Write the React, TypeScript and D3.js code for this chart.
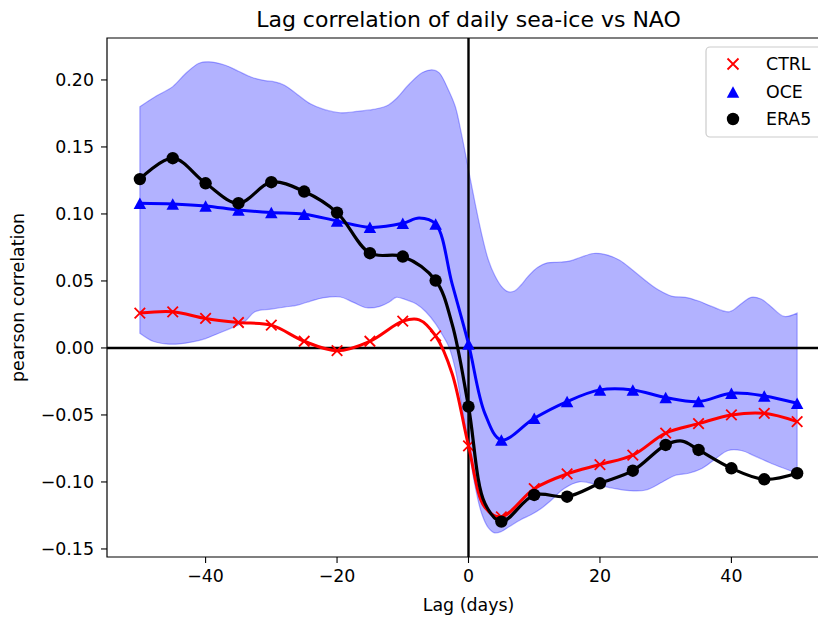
import React from "react";
import * as d3 from "d3";

const W = 818;
const H = 617;

const title = "Lag correlation of daily sea-ice vs NAO";
const xLabel = "Lag (days)";
const yLabel = "pearson correlation";
const xTicks = [-40, -20, 0, 20, 40];
const yTicks = [-0.15, -0.1, -0.05, 0, 0.05, 0.1, 0.15, 0.2];

// lags where markers are drawn
const markerLags = [-50, -45, -40, -35, -30, -25, -20, -15, -10, -5, 0, 5, 10, 15, 20, 25, 30, 35, 40, 45, 50];

const ctrlValues = [0.026, 0.027, 0.022, 0.019, 0.017, 0.005, -0.002, 0.005, 0.02, 0.009, -0.073, -0.126, -0.105, -0.094, -0.087, -0.08, -0.0635, -0.0565, -0.05, -0.0488, -0.055];
const oceValues = [0.108, 0.1075, 0.106, 0.103, 0.101, 0.0998, 0.0948, 0.09, 0.093, 0.0925, 0.003, -0.0687, -0.0525, -0.04, -0.0313, -0.0313, -0.037, -0.04, -0.0338, -0.0358, -0.0413];
const era5Values = [0.126, 0.1416, 0.1229, 0.108, 0.1237, 0.1167, 0.101, 0.0707, 0.0682, 0.0503, -0.0438, -0.1296, -0.1097, -0.111, -0.101, -0.0916, -0.0724, -0.0761, -0.0898, -0.098, -0.0935];

// extra points of the lines between markers
const ctrlExtraLags = [-7.5, -2.5, 2.5];
const ctrlExtraValues = [0.021, -0.019, -0.119];
const oceExtraLags = [-7.5, -2.5, 2.5];
const oceExtraValues = [0.097, 0.048, -0.049];
const era5ExtraLags = [-2.5, 2.5, 32.5];
const era5ExtraValues = [0.018, -0.116, -0.0695];

// spread band
const bandUpperLags = [-50, -47.5, -45, -43, -41, -39.5, -37, -35, -33, -31, -29.5, -28, -26, -24, -22, -19.5, -17, -14.5, -12.5, -11, -9, -7, -5.5, -4.5, -3, -2, -1, 0, 1, 2, 3, 4, 5, 6, 7, 8, 9, 10.5, 12, 14, 15.5, 17, 19, 21, 23, 25, 27, 29, 31, 33, 35, 37, 39.7, 41.5, 43, 44.5, 46, 48, 50];
const bandUpperValues = [0.18, 0.188, 0.195, 0.205, 0.2125, 0.2135, 0.211, 0.2065, 0.202, 0.1995, 0.1985, 0.196, 0.189, 0.182, 0.178, 0.1755, 0.1765, 0.178, 0.1805, 0.186, 0.197, 0.2055, 0.2075, 0.2055, 0.192, 0.18, 0.158, 0.133, 0.108, 0.085, 0.066, 0.054, 0.046, 0.042, 0.0425, 0.047, 0.053, 0.06, 0.0635, 0.064, 0.065, 0.0675, 0.0705, 0.0695, 0.0655, 0.058, 0.05, 0.043, 0.0385, 0.0378, 0.035, 0.031, 0.027, 0.033, 0.0378, 0.0365, 0.031, 0.0235, 0.026];
const bandLowerLags = [-50, -48, -46, -44, -42, -40, -38, -36, -34, -32.5, -30, -28, -26, -24, -22, -19.5, -17.5, -15.5, -13.5, -12, -11, -9.5, -8, -6.5, -5, -4, -3, -2, -1, 0, 1, 2, 3, 4, 5, 6.3, 8, 9.5, 11, 12.5, 14.5, 17, 19.5, 22, 24.5, 27, 29.5, 31.5, 33.5, 35.5, 37.5, 39.5, 41.5, 43.5, 46.5, 50];
const bandLowerValues = [0.011, 0.005, 0.003, 0.003, 0.0045, 0.007, 0.011, 0.015, 0.02, 0.027, 0.029, 0.0305, 0.032, 0.035, 0.0375, 0.038, 0.034, 0.03, 0.031, 0.0345, 0.0378, 0.036, 0.033, 0.027, 0.018, 0.01, 0.001, -0.016, -0.044, -0.074, -0.103, -0.1235, -0.134, -0.138, -0.137, -0.133, -0.128, -0.1245, -0.12, -0.114, -0.105, -0.0998, -0.102, -0.1047, -0.1065, -0.106, -0.1, -0.095, -0.0935, -0.09, -0.083, -0.0765, -0.0765, -0.0805, -0.087, -0.0935];

const legendNames = ["CTRL", "OCE", "ERA5"];

const FONT = "DejaVu Sans";

type Pt = [number, number];

function mergeLine(vals: number[], exLags: number[], exVals: number[]): Pt[] {
  const pts: Pt[] = markerLags.map((l, i) => [l, vals[i]] as Pt);
  exLags.forEach((l, i) => pts.push([l, exVals[i]]));
  pts.sort((a, b) => a[0] - b[0]);
  return pts;
}

function XMark({ cx, cy, s = 10.5, color = "red" }: { cx: number; cy: number; s?: number; color?: string }) {
  const h = s / 2;
  return (
    <path
      d={`M${cx - h},${cy - h}L${cx + h},${cy + h}M${cx - h},${cy + h}L${cx + h},${cy - h}`}
      stroke={color}
      strokeWidth={1.8}
      fill="none"
    />
  );
}

function TriMark({ cx, cy, w = 12.5, h = 11.5, color = "blue" }: { cx: number; cy: number; w?: number; h?: number; color?: string }) {
  return (
    <path
      d={`M${cx},${cy - h / 2}L${cx - w / 2},${cy + h / 2}L${cx + w / 2},${cy + h / 2}Z`}
      fill={color}
    />
  );
}

export default function App() {
  const left = 107, right = 830, top = 38, bottom = 557;
  const x = d3.scaleLinear().domain([-55, 55]).range([left, right]);
  const y = d3.scaleLinear().domain([-0.156, 0.2313]).range([bottom, top]);

  const line = d3
    .line<Pt>()
    .x((d) => x(d[0]))
    .y((d) => y(d[1]))
    .curve(d3.curveCatmullRom.alpha(0.5));

  const upperPts: Pt[] = bandUpperLags.map((l, i) => [l, bandUpperValues[i]]);
  const lowerPts: Pt[] = bandLowerLags.map((l, i) => [l, bandLowerValues[i]]).reverse() as Pt[];
  const upPath = line(upperPts) || "";
  const loPath = (line(lowerPts) || "").replace(/^M/, "L");
  const bandPath = upPath + loPath + "Z";

  const ctrlLine = mergeLine(ctrlValues, ctrlExtraLags, ctrlExtraValues);
  const oceLine = mergeLine(oceValues, oceExtraLags, oceExtraValues);
  const era5Line = mergeLine(era5Values, era5ExtraLags, era5ExtraValues);

  const yFmt = d3.format(".2f");
  const xFmt = d3.format("d");

  const tickFs = 17.4;

  return (
    <svg
      width={W}
      height={H}
      style={{ position: "absolute", left: 0, top: 0, background: "white" }}
      fontFamily={FONT}
    >
      <rect x={0} y={0} width={W} height={H} fill="white" />
      {/* band */}
      <path d={bandPath} fill="rgb(178,178,255)" stroke="rgba(0,0,255,0.3)" strokeWidth={1.2} />
      {/* zero lines */}
      <line x1={left} x2={right} y1={y(0)} y2={y(0)} stroke="black" strokeWidth={2.4} />
      <line x1={x(0)} x2={x(0)} y1={top} y2={bottom} stroke="black" strokeWidth={2.4} />

      {/* CTRL */}
      <path d={line(ctrlLine) || ""} fill="none" stroke="red" strokeWidth={3} />
      {markerLags.map((l, i) => (
        <XMark key={"c" + i} cx={x(l)} cy={y(ctrlValues[i])} />
      ))}
      {/* OCE */}
      <path d={line(oceLine) || ""} fill="none" stroke="blue" strokeWidth={3} />
      {markerLags.map((l, i) => (
        <TriMark key={"o" + i} cx={x(l)} cy={y(oceValues[i])} />
      ))}
      {/* ERA5 */}
      <path d={line(era5Line) || ""} fill="none" stroke="black" strokeWidth={3.2} />
      {markerLags.map((l, i) => (
        <circle key={"e" + i} cx={x(l)} cy={y(era5Values[i])} r={6.2} fill="black" />
      ))}

      {/* spines */}
      <path d={`M${left},${top}V${bottom}H${right}V${top}Z`} fill="none" stroke="black" strokeWidth={1.2} />

      {/* x ticks */}
      {xTicks.map((t) => (
        <g key={"xt" + t}>
          <line x1={x(t)} x2={x(t)} y1={bottom} y2={bottom + 6} stroke="black" strokeWidth={1.1} />
          <text x={x(t)} y={bottom + 25} textAnchor="middle" fontSize={tickFs} fill="black">
            {t < 0 ? "\u2212" + xFmt(-t) : xFmt(t)}
          </text>
        </g>
      ))}
      {/* y ticks */}
      {yTicks.map((t) => (
        <g key={"yt" + t}>
          <line x1={left - 6} x2={left} y1={y(t)} y2={y(t)} stroke="black" strokeWidth={1.1} />
          <text x={left - 13} y={y(t)} dy="0.36em" textAnchor="end" fontSize={tickFs} fill="black">
            {t < 0 ? "\u2212" + yFmt(-t) : yFmt(Math.abs(t))}
          </text>
        </g>
      ))}

      {/* labels */}
      <text x={(left + right) / 2} y={611} textAnchor="middle" fontSize={tickFs} fill="black">
        {xLabel}
      </text>
      <text
        transform={`translate(24,${(top + bottom) / 2}) rotate(-90)`}
        textAnchor="middle"
        fontSize={tickFs}
        fill="black"
      >
        {yLabel}
      </text>
      <text x={(left + right) / 2} y={27} textAnchor="middle" fontSize={22} fill="black">
        {title}
      </text>

      {/* legend */}
      <g>
        <rect x={706} y={47} width={117} height={90} rx={4} fill="white" fillOpacity={0.8} stroke="#cccccc" strokeWidth={1.2} />
        <XMark cx={733} cy={64} s={11} />
        <TriMark cx={733} cy={92} />
        <circle cx={733} cy={119} r={6.2} fill="black" />
        {legendNames.map((n, i) => (
          <text key={n} x={766} y={[64, 92, 119][i]} dy="0.36em" fontSize={tickFs} fill="black">
            {n}
          </text>
        ))}
      </g>
    </svg>
  );
}
